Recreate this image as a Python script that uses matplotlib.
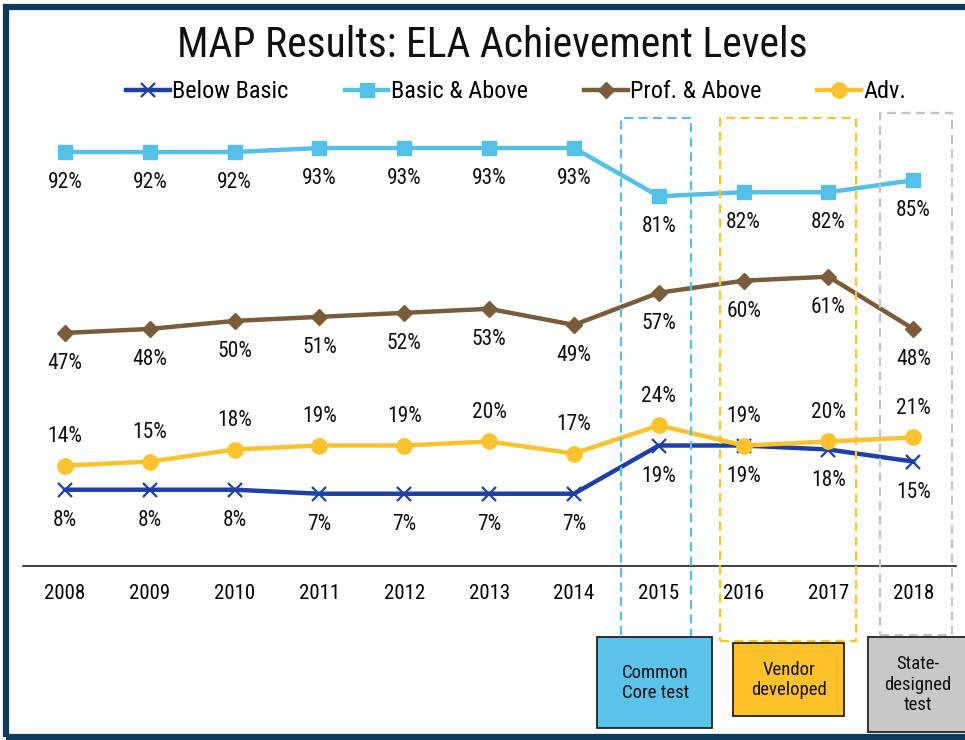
import numpy as np
import matplotlib
matplotlib.use("Agg")
import matplotlib.pyplot as plt
from matplotlib.patches import Rectangle
from matplotlib.transforms import blended_transform_factory

plt.rcParams['font.family'] = ['Liberation Sans Narrow', 'Roboto Condensed', 'DejaVu Sans']
plt.rcParams['font.stretch'] = 'condensed'

# данные
years = ['2008', '2009', '2010', '2011', '2012', '2013', '2014', '2015', '2016', '2017', '2018']
below_basic = [8, 8, 8, 7, 7, 7, 7, 19, 19, 18, 15]
basic_above = [92, 92, 92, 93, 93, 93, 93, 81, 82, 82, 85]
prof_above = [47, 48, 50, 51, 52, 53, 49, 57, 60, 61, 48]
advanced = [14, 15, 18, 19, 19, 20, 17, 24, 19, 20, 21]

test_labels = ['Common\nCore test', 'Vendor\ndeveloped', 'State-\ndesigned\ntest']

x = np.arange(len(years))

fig = plt.figure(figsize=(9.65, 7.4), dpi=100)
ax = fig.add_axes([0.0234, 0.235, 0.967, 0.603])

series = [
    ('Below Basic', below_basic, '#1d3fa6', 'x', 10, -22),
    ('Basic & Above', basic_above, '#56c1e8', 's', 10, -22),
    ('Prof. & Above', prof_above, '#7a5b3a', 'D', 8, -22),
    ('Adv.', advanced, '#fdc32f', 'o', 11, 21),
]
for name, vals, col, mk, ms, off in series:
    ax.plot(x, vals, color=col, lw=3.2, marker=mk, ms=ms, mew=1.6 if mk == 'x' else 1,
            mec=col, mfc=col, label=name, zorder=3)
    for xi, v in zip(x, vals):
        ax.annotate(f'{v}%', (xi, v), xytext=(0, off), textcoords='offset points',
                    ha='center', va='center', fontsize=15.5, color='#111111')

ax.set_xlim(-0.5, 10.5)
ax.set_ylim(-11, 100)
ax.set_xticks(x)
ax.set_xticklabels(years, fontsize=15)
ax.tick_params(axis='x', length=0, pad=13)
ax.set_yticks([])
for s in ['left', 'right', 'top']:
    ax.spines[s].set_visible(False)
ax.spines['bottom'].set_color('#222222')
ax.spines['bottom'].set_linewidth(1.2)

# пунктирные рамки вокруг лет и плашки с подписями (x в единицах индекса года, y в долях фигуры)
tr = blended_transform_factory(ax.transData, fig.transFigure)
box_edges = ['#56c1e8', '#fdc32f', '#c4c4c4']
box_fills = ['#5bc2ea', '#fdc12a', '#c8c8c8']
dash_x = [(6.56, 7.38), (7.72, 9.32), (9.61, 10.46)]
dash_y = [(0.135, 0.84), (0.134, 0.84), (0.142, 0.847)]
lab_x = [(6.27, 7.63), (7.88, 9.18), (9.47, 11.5)]
lab_y = [(0.016, 0.139), (0.032, 0.131), (0.011, 0.139)]
text_x = [6.96, 8.53, 10.05]
for lab, ec, fc, dx, dy, lx, ly, tx in zip(test_labels, box_edges, box_fills,
                                           dash_x, dash_y, lab_x, lab_y, text_x):
    fig.add_artist(Rectangle((dx[0], dy[0]), dx[1] - dx[0], dy[1] - dy[0], transform=tr,
                             fill=False, ec=ec, lw=1.6, ls=(0, (4, 2.5)), clip_on=False, zorder=1))
    fig.add_artist(Rectangle((lx[0], ly[0]), lx[1] - lx[0], ly[1] - ly[0], transform=tr,
                             fc=fc, ec='#222222', lw=1.3, clip_on=False, zorder=2))
    fig.text(tx, (ly[0] + ly[1]) / 2, lab, transform=tr, ha='center', va='center',
             fontsize=13.5, linespacing=1.15, color='#111111')

fig.text(0.51, 0.939, 'MAP Results: ELA Achievement Levels', ha='center', va='center',
         fontsize=30, color='#111111')
fig.legend(loc='center', bbox_to_anchor=(0.535, 0.876), ncol=4, frameon=False,
           fontsize=17.5, handlelength=1.8, columnspacing=2.3, handletextpad=0.1)

# рамка вокруг картинки
fig.add_artist(Rectangle((0.0065, 0.0045), 1.05, 0.986, transform=fig.transFigure,
                         fill=False, ec='#0d3b5c', lw=4.5, clip_on=False))

fig.savefig('out.png', dpi=100)
